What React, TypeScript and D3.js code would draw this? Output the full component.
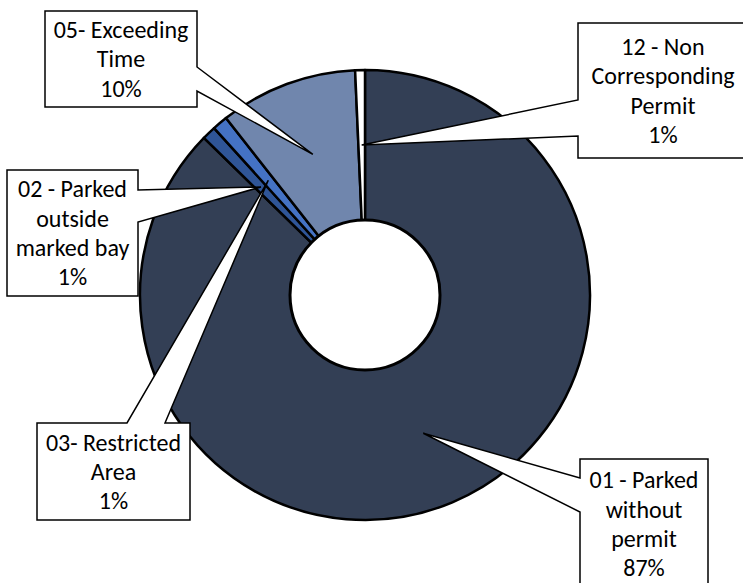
import React, { useEffect, useRef } from 'react';
import * as d3 from 'd3';

// violation types, clockwise from 12 o'clock
const categories = [
  '01 - Parked without permit',
  '02 - Parked outside marked bay',
  '03- Restricted Area',
  '05- Exceeding Time',
  '12 - Non Corresponding Permit',
];
const shares = [87.3, 1.0, 1.1, 9.9, 0.7];
const labelLines = [
  ['01 - Parked', 'without', 'permit'],
  ['02 - Parked', 'outside', 'marked bay'],
  ['03- Restricted', 'Area'],
  ['05- Exceeding', 'Time'],
  ['12 - Non', 'Corresponding', 'Permit'],
];
const colors = ['#333F55', '#2F5597', '#4472C4', '#7086AD', '#FFFFFF'];

interface Slice {
  label: string;
  value: number;
}

// callout boxes: [x0, y0, x1, y1], side the pointer leaves from, pointer base
const callouts = [
  { box: [580, 459, 708, 600], side: 'left', base: [478, 512] },
  { box: [7, 170, 138, 296], side: 'right', base: [190, 222] },
  { box: [37, 423, 190, 520], side: 'top', base: [127, 165] },
  { box: [45, 11, 197, 107], side: 'right', base: [67, 91] },
  { box: [578, 23, 750, 158], side: 'left', base: [100, 136] },
];

const App: React.FC = () => {
  const svgRef = useRef<SVGSVGElement>(null);

  useEffect(() => {
    if (!svgRef.current) return;
    const width = 743;
    const height = 583;
    const cx = 365;
    const cy = 295;
    const outer = 225;
    const hole = 75;

    const svg = d3.select(svgRef.current);
    svg.selectAll('*').remove();

    svg.append('rect').attr('width', width).attr('height', height).attr('fill', '#ffffff');

    const data: Slice[] = categories.map((c, i) => ({ label: c, value: shares[i] }));
    const total = d3.sum(shares);

    const pie = d3.pie<Slice>().sort(null).value(d => d.value);
    const arcs = pie(data);

    const path = d3.arc<d3.PieArcDatum<Slice>>().innerRadius(0).outerRadius(outer);
    const tipArc = d3.arc<d3.PieArcDatum<Slice>>().innerRadius(hole).outerRadius(outer);

    const g = svg.append('g').attr('transform', `translate(${cx},${cy})`);

    g.selectAll('.slice')
      .data(arcs)
      .enter().append('path')
      .attr('class', 'slice')
      .attr('d', path as any)
      .attr('fill', (d, i) => colors[i])
      .attr('stroke', '#000')
      .attr('stroke-width', 2.5)
      .attr('stroke-linejoin', 'round');

    g.append('circle')
      .attr('r', hole)
      .attr('fill', '#fff')
      .attr('stroke', '#000')
      .attr('stroke-width', 3);

    // callouts
    arcs.forEach((d, i) => {
      const c = callouts[i];
      const [x0, y0, x1, y1] = c.box;
      const [a, b] = c.base;
      const [tx0, ty0] = tipArc.centroid(d);
      const tx = tx0 + cx;
      const ty = ty0 + cy;
      let p = '';
      if (c.side === 'left') {
        p = `M${x0},${y0}L${x1},${y0}L${x1},${y1}L${x0},${y1}L${x0},${b}L${tx},${ty}L${x0},${a}Z`;
      } else if (c.side === 'right') {
        p = `M${x0},${y0}L${x1},${y0}L${x1},${a}L${tx},${ty}L${x1},${b}L${x1},${y1}L${x0},${y1}Z`;
      } else {
        p = `M${x0},${y0}L${a},${y0}L${tx},${ty}L${b},${y0}L${x1},${y0}L${x1},${y1}L${x0},${y1}Z`;
      }
      svg.append('path')
        .attr('d', p)
        .attr('fill', '#fff')
        .attr('stroke', '#000')
        .attr('stroke-width', 1.5)
        .attr('stroke-linejoin', 'miter');

      const lines = [...labelLines[i], `${Math.round((d.data.value / total) * 100)}%`];
      const lineH = 29.3;
      const midX = c.side === 'left' && x1 > width ? 663 : (x0 + x1) / 2;
      const textH = lines.length * lineH;
      const boxBottom = Math.min(y1, height + 20);
      let firstY = (y0 + boxBottom) / 2 - textH / 2 + lineH / 2;
      if (i === 0) firstY = 480;
      const t = svg.append('text')
        .attr('text-anchor', 'middle')
        .attr('font-family', "Carlito, Calibri, 'Liberation Sans', Arial, sans-serif")
        .attr('font-size', 24)
        .attr('fill', '#000');
      lines.forEach((ln, k) => {
        t.append('tspan')
          .attr('x', midX)
          .attr('y', firstY + k * lineH)
          .attr('dy', '0.35em')
          .text(ln);
      });
    });
  }, []);

  return (
    <svg
      ref={svgRef}
      width={743}
      height={583}
      style={{ position: 'absolute', left: 0, top: 0, display: 'block' }}
    />
  );
};

export default App;
